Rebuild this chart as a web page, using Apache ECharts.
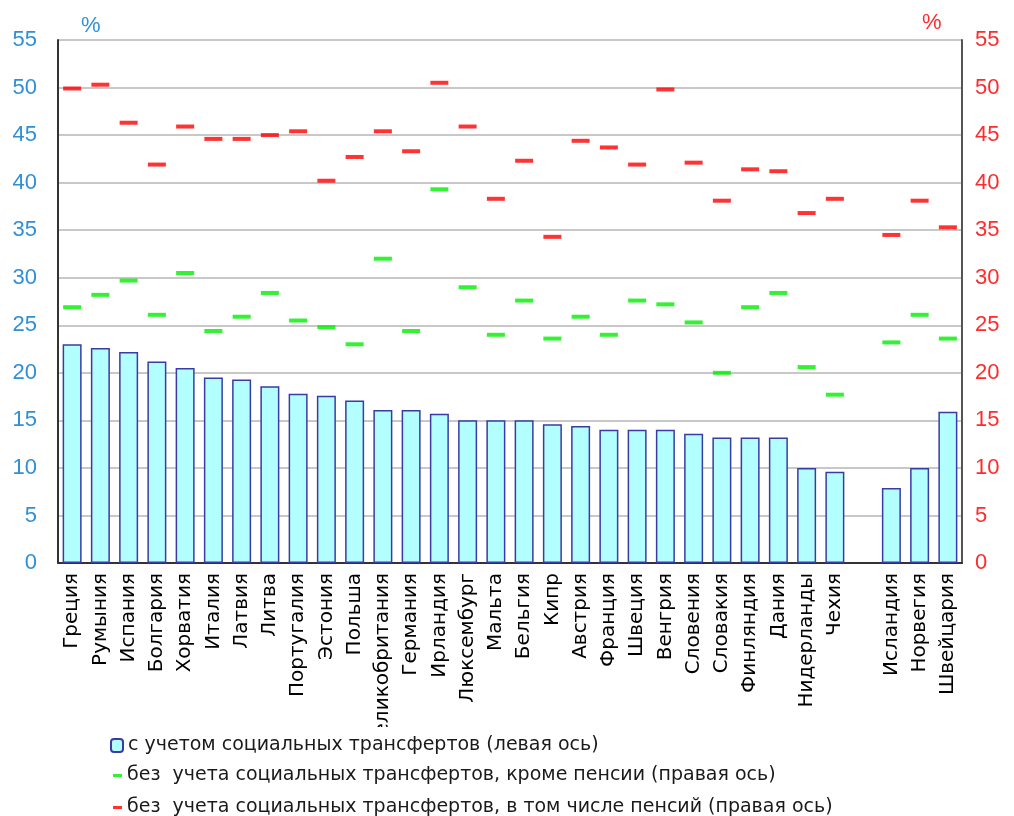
<!DOCTYPE html>
<html><head><meta charset="utf-8">
<script src="https://cdn.jsdelivr.net/npm/echarts@6/dist/echarts.min.js"></script>
<style>html,body{margin:0;padding:0;background:#fff}#c{width:1014px;height:816px}</style>
</head><body><div id="c"></div>
<script>
const categories = ['Греция','Румыния','Испания','Болгария','Хорватия','Италия','Латвия','Литва','Португалия','Эстония','Польша','Великобритания','Германия','Ирландия','Люксембург','Мальта','Бельгия','Кипр','Австрия','Франция','Швеция','Венгрия','Словения','Словакия','Финляндия','Дания','Нидерланды','Чехия','','Исландия','Норвегия','Швейцария'];
const withTransfers = [23.0,22.6,22.2,21.2,20.5,19.5,19.3,18.6,17.8,17.6,17.1,16.1,16.1,15.7,15.0,15.0,15.0,14.6,14.4,14.0,14.0,14.0,13.6,13.2,13.2,13.2,10.0,9.6,null,7.9,10.0,15.9];
const withoutExceptPensions = [26.9,28.2,29.7,26.1,30.5,24.4,25.9,28.4,25.5,24.8,23.0,32.0,24.4,39.3,29.0,24.0,27.6,23.6,25.9,24.0,27.6,27.2,25.3,20.0,26.9,28.4,20.6,17.7,null,23.2,26.1,23.6];
const withoutInclPensions = [49.9,50.3,46.3,41.9,45.9,44.6,44.6,45.0,45.4,40.2,42.7,45.4,43.3,50.5,45.9,38.3,42.3,34.3,44.4,43.7,41.9,49.8,42.1,38.1,41.4,41.2,36.8,38.3,null,34.5,38.1,35.3];
const names = ['с учетом социальных трансфертов (левая ось)','без  учета социальных трансфертов, кроме пенсии (правая ось)','без  учета социальных трансфертов, в том числе пенсий (правая ось)'];

const chart = echarts.init(document.getElementById('c'));
const font = 'Liberation Sans, Arial, sans-serif';
const legendText = {fontSize:19,fontFamily:'DejaVu Sans',color:'#1a1a1a'};
chart.setOption({
  animation:false,
  grid:{left:58,right:52,top:40,bottom:253},
  xAxis:{type:'category',data:categories,boundaryGap:true,
    axisLine:{lineStyle:{color:'#333',width:2}},axisTick:{show:false},
    axisLabel:{rotate:90,interval:0,margin:10,color:'#000',fontFamily:'DejaVu Sans',fontSize:20}},
  yAxis:[
    {type:'value',min:0,max:55,interval:5,position:'left',
     axisLine:{show:true,lineStyle:{color:'#333',width:2}},axisTick:{show:false},
     splitLine:{lineStyle:{color:'#c8c8c8',width:2}},
     axisLabel:{color:'#2f8fd8',fontSize:22,fontFamily:font,margin:21}},
    {type:'value',min:0,max:55,interval:5,position:'right',
     axisLine:{show:true,lineStyle:{color:'#555',width:2}},axisTick:{show:false},
     splitLine:{show:false},
     axisLabel:{color:'#ff2a2a',fontSize:22,fontFamily:font,margin:13}}
  ],
  legend:[
    {data:[names[0]],left:110,top:736,orient:'vertical',itemWidth:12,itemHeight:13,z:50,padding:0,
     textStyle:legendText},
    {data:[names[1]],left:113,top:766,orient:'vertical',itemWidth:9,itemHeight:3,z:50,padding:0,
     textStyle:legendText},
    {data:[names[2]],left:113,top:798,orient:'vertical',itemWidth:9,itemHeight:3,z:50,padding:0,
     textStyle:legendText}
  ],
  graphic:[
    {type:'rect',left:0,top:727,shape:{width:1014,height:89},style:{fill:'#fff'},z:40},
    {type:'text',left:81,top:15,style:{text:'%',fill:'#2f8fd8',font:'22px Liberation Sans'},z:40},
    {type:'text',left:922,top:12,style:{text:'%',fill:'#ff2a2a',font:'22px Liberation Sans'},z:40}
  ],
  series:[
    {name:names[0],type:'bar',yAxisIndex:0,data:withTransfers,barWidth:19,
     itemStyle:{color:'#b3ffff',borderColor:'#3b3ba6',borderWidth:1.5}},
    {name:names[1],type:'scatter',yAxisIndex:1,data:withoutExceptPensions,symbol:'rect',symbolSize:[18,4],
     itemStyle:{color:'#00ee00'}},
    {name:names[2],type:'scatter',yAxisIndex:1,data:withoutInclPensions,symbol:'rect',symbolSize:[18,4],
     itemStyle:{color:'#ff0000'}}
  ]
});
</script></body></html>
